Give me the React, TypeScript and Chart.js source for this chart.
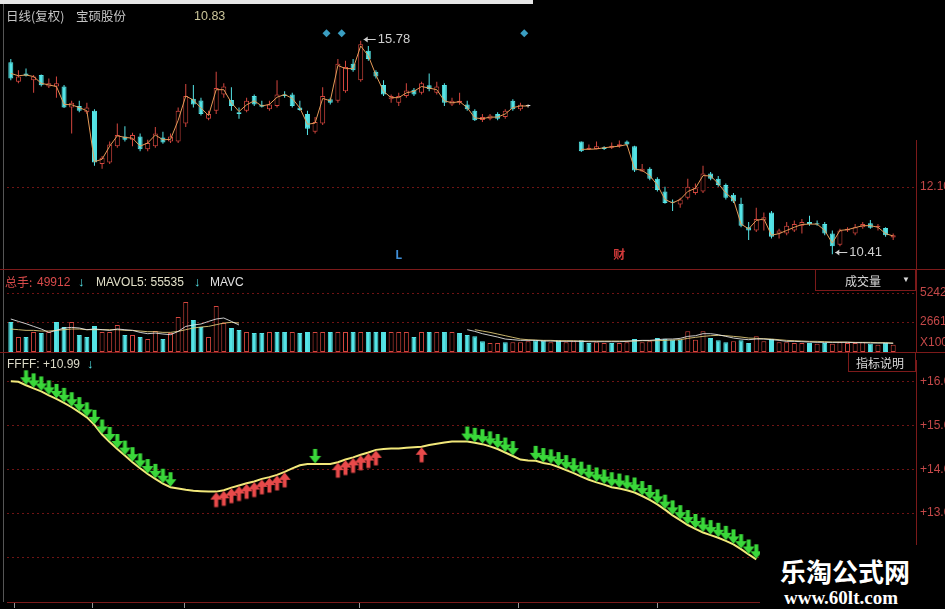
import React, { useEffect, useRef } from 'react';
import { Chart, registerables } from 'chart.js';

Chart.register(...registerables);

// ---------- price candles (null = no data in this stretch of the screenshot) ----------
const GAP6 = [null, null, null, null, null, null];
const openP = [
  15.24, 14.75, 14.96, 14.79, 14.92, 14.63, 14.63, 14.63, 14.10, 14.14,
  13.98, 14.02, 12.68, 12.72, 13.13, 13.37, 13.29, 13.37, 13.05, 13.13,
  13.35, 13.25, 13.25, 13.70, 14.32, 14.28, 13.82, 14.02, 14.43, 14.29,
  13.98, 14.02, 14.39, 14.17, 14.06, 14.14, 14.43, 14.43, 14.10, 13.94,
  13.49, 13.70, 14.31, 14.27, 14.51, 15.20, 14.79, 15.53, 15.00, 14.67,
  14.31, 14.22, 14.39, 14.55, 14.47, 14.66, 14.47, 14.67, 14.18, 14.22,
  14.18, 14.02, 13.79, 13.82, 13.94, 13.86, 14.27, 14.06, 14.14,
  ...GAP6,
  13.25, 13.05, 13.06, 13.10, 13.09, 13.13, 13.25, 13.13, 12.49, 12.56,
  12.31, 11.99, 11.74, 11.66, 11.83, 11.95, 11.99, 12.44, 12.31, 12.15,
  11.91, 11.68, 11.09, 11.01, 11.26, 11.46, 10.93, 10.93, 11.01, 11.13,
  11.22, 11.19, 11.17, 10.93, 10.65, 11.01, 10.93, 11.09, 11.19, 11.09,
  11.07, 10.83,
];
const highP = [
  15.32, 15.04, 15.08, 14.92, 14.93, 14.83, 14.88, 14.67, 14.27, 14.27,
  14.22, 14.06, 12.88, 13.25, 13.70, 13.63, 13.47, 13.45, 13.29, 13.61,
  13.49, 13.45, 14.10, 14.69, 14.67, 14.35, 14.02, 15.00, 14.71, 14.61,
  14.10, 14.35, 14.43, 14.27, 14.27, 14.79, 14.51, 14.47, 14.27, 14.02,
  13.86, 14.61, 14.35, 15.32, 15.28, 15.32, 15.78, 15.65, 15.04, 14.79,
  14.43, 14.47, 14.71, 14.59, 14.75, 14.96, 14.75, 14.71, 14.35, 14.47,
  14.27, 14.06, 13.94, 13.94, 13.98, 14.06, 14.31, 14.22, 14.18,
  ...GAP6,
  13.25, 13.17, 13.25, 13.13, 13.22, 13.27, 13.27, 13.14, 12.68, 12.60,
  12.35, 12.11, 11.79, 11.83, 12.31, 12.19, 12.64, 12.48, 12.38, 12.19,
  11.95, 11.83, 11.22, 11.58, 11.46, 11.50, 11.05, 11.22, 11.26, 11.30,
  11.38, 11.26, 11.22, 11.01, 11.05, 11.09, 11.17, 11.22, 11.27, 11.17,
  11.09, 10.93,
];
const lowP = [
  14.79, 14.71, 14.88, 14.47, 14.63, 14.59, 14.35, 14.09, 13.45, 13.98,
  13.94, 12.64, 12.56, 12.68, 13.09, 13.25, 13.13, 13.00, 13.00, 13.09,
  13.19, 13.21, 13.21, 13.61, 14.10, 13.90, 13.78, 13.94, 14.35, 14.02,
  13.82, 13.98, 14.14, 14.10, 14.02, 14.10, 14.35, 14.10, 14.02, 13.41,
  13.45, 13.66, 14.18, 14.22, 14.47, 15.00, 14.75, 15.28, 14.83, 14.39,
  14.22, 14.14, 14.35, 14.39, 14.43, 14.51, 14.43, 14.14, 14.14, 14.17,
  14.02, 13.76, 13.74, 13.78, 13.78, 13.82, 14.02, 14.02, 14.10,
  ...GAP6,
  12.98, 13.03, 13.05, 13.03, 13.06, 13.09, 13.13, 12.48, 12.48, 12.27,
  11.99, 11.68, 11.50, 11.58, 11.79, 11.91, 11.95, 12.27, 12.11, 11.79,
  11.70, 11.09, 10.77, 10.97, 11.01, 10.81, 10.81, 10.89, 10.97, 10.93,
  11.13, 11.13, 10.89, 10.41, 10.61, 10.97, 10.89, 11.05, 11.05, 11.01,
  10.85, 10.77,
];
const closeP = [
  14.83, 14.88, 14.90, 14.88, 14.66, 14.71, 14.71, 14.10, 14.22, 14.02,
  14.10, 12.72, 12.84, 13.17, 13.41, 13.29, 13.41, 13.05, 13.21, 13.45,
  13.22, 13.37, 14.02, 14.39, 14.18, 13.94, 13.94, 14.59, 14.63, 14.14,
  13.94, 14.27, 14.18, 14.12, 14.18, 14.43, 14.39, 14.14, 14.04, 13.57,
  13.74, 14.39, 14.22, 15.20, 15.12, 15.04, 15.69, 15.32, 14.88, 14.43,
  14.39, 14.39, 14.53, 14.43, 14.71, 14.57, 14.63, 14.22, 14.27, 14.27,
  14.06, 13.78, 13.86, 13.90, 13.82, 14.02, 14.06, 14.17, 14.14,
  ...GAP6,
  13.00, 13.09, 13.13, 13.06, 13.14, 13.18, 13.17, 12.52, 12.56, 12.31,
  12.03, 11.70, 11.71, 11.79, 12.11, 12.07, 12.44, 12.31, 12.15, 11.83,
  11.74, 11.13, 11.01, 11.30, 11.34, 10.85, 11.01, 11.13, 11.17, 11.22,
  11.17, 11.16, 10.93, 10.61, 11.01, 11.05, 11.09, 11.17, 11.08, 11.13,
  10.89, 10.89,
];
const maPrice = [
  14.96, 14.90, 14.92, 14.88, 14.71, 14.67, 14.63, 14.18, 14.17, 14.10,
  14.02, 12.74, 12.80, 13.13, 13.39, 13.35, 13.33, 13.13, 13.21, 13.41,
  13.29, 13.30, 13.78, 14.39, 14.29, 14.09, 13.90, 14.55, 14.55, 14.22,
  14.00, 14.17, 14.27, 14.14, 14.18, 14.36, 14.43, 14.33, 14.09, 13.68,
  13.71, 14.33, 14.27, 15.16, 15.08, 15.08, 15.65, 15.40, 14.92, 14.51,
  14.35, 14.35, 14.47, 14.51, 14.63, 14.59, 14.55, 14.27, 14.22, 14.25,
  14.10, 13.84, 13.82, 13.86, 13.86, 13.94, 14.10, 14.14, 14.14,
  ...GAP6,
  13.05, 13.05, 13.06, 13.09, 13.11, 13.13, 13.17, 12.56, 12.52, 12.39,
  12.15, 11.79, 11.70, 11.79, 11.99, 12.07, 12.39, 12.38, 12.19, 11.95,
  11.79, 11.17, 11.05, 11.26, 11.30, 10.89, 10.93, 11.01, 11.09, 11.16,
  11.17, 11.17, 11.01, 10.69, 11.01, 11.03, 11.08, 11.13, 11.13, 11.09,
  10.93, 10.87,
];

// ---------- volume (x100) ----------
const volume = [
  2670, 1335, 1335, 1780, 1691, 1780, 2670, 2225, 2670, 1513,
  1335, 2314, 1780, 1780, 2403, 1513, 1513, 1335, 1157, 1869,
  1157, 1691, 3115, 4450, 2848, 2225, 1335, 4094, 2581, 2136,
  1958, 1780, 1691, 1691, 1780, 1780, 1780, 1780, 1691, 1780,
  1780, 1780, 1780, 1780, 1780, 1780, 1780, 1780, 1780, 1780,
  1780, 1780, 1780, 1335, 1780, 1780, 1780, 1780, 1780, 1691,
  1513, 1395, 950, 800, 800, 860, 860, 860, 950, 1040,
  1040, 860, 1040, 860, 950, 1040, 800, 860, 800, 800,
  800, 860, 1157, 860, 950, 1246, 1187, 1097, 1097, 1840,
  1097, 1840, 1246, 1040, 860, 950, 1040, 800, 1395, 950,
  1157, 860, 860, 800, 800, 800, 740, 800, 740, 860,
  800, 800, 860, 740, 650, 800, 650,
];
// u = up day (hollow red), d = down day (solid cyan), one letter per bar
const volDir = [
  'dudududdud', 'dduuududuu', 'duuudduuud', 'duddudduddd'.slice(0, 10),
  'uuduududdd', 'uuuduududu'.slice(0, 5) + 'dudud',
  'ddduuduuud', 'duduudduud', 'uuduudddduu'.slice(0, 10),
  'uudddudduu', 'duuuududuu', 'uuududu',
].join('');
const mavol5 = [
  2937, 2723, 2519, 2278, 2047, 1744, 1922, 2136, 2189, 2136,
  1985, 2047, 1985, 1922, 2047, 1985, 1922, 1744, 1629, 1685,
  1600, 1540, 1830, 2278, 2403, 2492, 2723, 2937, 3026, 2723, 2403,
  ...Array(29).fill(null),
  1985, 1836, 1629, 1480, 1332, 1154, 1095, 1035, 1035, 1035,
  976, 976, 946, 946, 946, 946, 917, 917, 917, 917,
  917, 946, 1006, 1035, 1035, 1095, 1154, 1154, 1213, 1391,
  1451, 1629, 1629, 1540, 1391, 1243, 1154, 1095, 1154, 1154,
  1095, 1035, 946, 946, 917, 887, 857, 857, 857, 857,
  857, 828, 828, 798, 798, 798, 768,
];
const mavol10 = [
  2044, 1985, 1925, 1925, 1866, 1866, 1925, 1985, 2044, 2044,
  1985, 1985, 1985, 1985, 1985, 1925, 1925, 1866, 1807, 1807,
  1747, 1747, 1836, 1985, 2133, 2222, 2281, 2430, 2578, 2637, 2578,
  ...Array(30).fill(null),
  1985, 1866, 1747, 1599, 1451, 1302, 1154, 1095, 1065, 1035,
  1035, 1006, 1006, 1006, 976, 976, 976, 976, 976, 976,
  976, 976, 1006, 1006, 1006, 1035, 1065, 1095, 1213, 1302,
  1391, 1451, 1480, 1451, 1391, 1332, 1243, 1213, 1184, 1154,
  1095, 1035, 1006, 976, 946, 946, 917, 887, 887, 887,
  857, 857, 857, 828, 828, 798,
];

// ---------- FFFF indicator ----------
const ffff = [
  16.00, 15.99, 15.91, 15.84, 15.77, 15.68, 15.60, 15.51, 15.41, 15.30,
  15.18, 15.01, 14.79, 14.62, 14.46, 14.31, 14.16, 14.02, 13.89, 13.78,
  13.67, 13.59, 13.56, 13.53, 13.51, 13.50, 13.49, 13.49, 13.52, 13.58,
  13.63, 13.68, 13.72, 13.78, 13.82, 13.87, 13.94, 14.02, 14.09, 14.12,
  14.12, 14.12, 14.12, 14.16, 14.22, 14.27, 14.33, 14.38, 14.44, 14.46,
  14.47, 14.47, 14.49, 14.50, 14.51, 14.55, 14.58, 14.61, 14.63, 14.63,
  14.63, 14.60, 14.57, 14.52, 14.46, 14.38, 14.30, 14.22, 14.20, 14.19,
  14.14, 14.11, 14.05, 13.98, 13.91, 13.83, 13.76, 13.70, 13.65, 13.59,
  13.56, 13.52, 13.47, 13.39, 13.30, 13.20, 13.08, 12.95, 12.84, 12.73,
  12.64, 12.56, 12.50, 12.44, 12.37, 12.29, 12.18, 12.06, 11.95,
  ...Array(18).fill(null),
];
const downSignals = [
  2, 3, 4, 5, 6, 7, 8, 9, 10, 11, 12, 13, 14, 15, 16, 17, 18, 19, 20, 21,
  40,
  60, 61, 62, 63, 64, 65, 66,
  69, 70, 71, 72, 73, 74, 75, 76, 77, 78, 79, 80, 81, 82, 83, 84, 85, 86, 87, 88, 89, 90,
  91, 92, 93, 94, 95, 96, 97, 98,
];
const upSignals = [27, 28, 29, 30, 31, 32, 33, 34, 35, 36, 43, 44, 45, 46, 47, 48, 54];

// ---------- axes / markers ----------
const priceTicks = [12.1];
const volTicks = [5242, 2661, 800];
const volTickLabels = ['5242', '2661', 'X100'];
const ffffTicks = [16, 15, 14, 13, 12];
const dateTicks = [0.5, 10.8, 22.8, 45.9, 66.7, 85];
const flagMarks = [41.5, 43.5, 67.5];
const flagLevel = 15.97;
const eventMarks = [
  { i: 51, text: 'L', color: '#3f8fd8' },
  { i: 80, text: '财', color: '#d23a3a' },
];

const CYAN = '#54e4e6';
const RED = '#d4463e';
const AXIS = '#7c1a1a';
const GRID = 'rgba(130,24,24,0.85)';
const LABEL = '#c44848';
const SANS = '"Liberation Sans", Arial, sans-serif';
const CJK = '"Noto Sans CJK SC", "Noto Sans", sans-serif';

function xScale(display = false) {
  return {
    type: 'linear', min: -0.5, max: 119, offset: false, display,
    afterFit: (s: any) => { s.paddingLeft = 0; s.paddingRight = 0; },
  };
}

function yScale(min: number, max: number, ticks: number[], label: (v: number) => string, border: boolean, hideGridAt?: number) {
  return {
    type: 'linear', position: 'right', min, max,
    afterFit: (s: any) => { s.width = 29; s.paddingTop = 0; s.paddingBottom = 0; },
    afterBuildTicks: (s: any) => { s.ticks = ticks.map((v) => ({ value: v })); },
    grid: {
      drawTicks: false,
      lineWidth: 1,
      color: (c: any) => (c.tick && c.tick.value === hideGridAt ? 'rgba(0,0,0,0)' : GRID),
    },
    border: { display: border, color: AXIS, width: 1, dash: [2, 3] },
    ticks: {
      color: LABEL, padding: 4, autoSkip: false,
      font: { family: SANS, size: 12 },
      callback: (v: any) => label(Number(v)),
    },
  };
}

function makeArrow(color: string, down: boolean) {
  const c = document.createElement('canvas');
  c.width = 13; c.height = 36;
  const g = c.getContext('2d')!;
  g.fillStyle = color;
  g.beginPath();
  if (down) {
    // tip at y = 17 (just above the centre, which sits on the line)
    g.moveTo(4.5, 3); g.lineTo(8.5, 3); g.lineTo(8.5, 10); g.lineTo(12.5, 10);
    g.lineTo(6.5, 17.5); g.lineTo(0.5, 10); g.lineTo(4.5, 10);
  } else {
    const o = 18.5;
    g.moveTo(6.5, o); g.lineTo(12.5, o + 7.5); g.lineTo(8.5, o + 7.5); g.lineTo(8.5, o + 15);
    g.lineTo(4.5, o + 15); g.lineTo(4.5, o + 7.5); g.lineTo(0.5, o + 7.5);
  }
  g.closePath();
  g.fill();
  return c;
}

const priceAnno = {
  id: 'priceAnno',
  afterDatasetsDraw(chart: any) {
    const { ctx, scales } = chart;
    const xs = scales.x, ys = scales.y;
    let hi = -Infinity, hiI = 0, lo = Infinity, loI = 0;
    highP.forEach((v, i) => { if (v != null && v > hi) { hi = v; hiI = i; } });
    lowP.forEach((v, i) => { if (v != null && v < lo) { lo = v; loI = i; } });
    ctx.save();
    const tag = (i: number, v: number) => {
      const px = xs.getPixelForValue(i) + 3;
      const py = Math.round(ys.getPixelForValue(v)) - 1.5;
      ctx.strokeStyle = '#cfcfcf'; ctx.fillStyle = '#cfcfcf'; ctx.lineWidth = 1;
      ctx.beginPath(); ctx.moveTo(px, py); ctx.lineTo(px + 12, py); ctx.stroke();
      ctx.beginPath(); ctx.moveTo(px, py); ctx.lineTo(px + 4, py - 3); ctx.lineTo(px + 4, py + 3); ctx.closePath(); ctx.fill();
      ctx.font = `13px ${SANS}`; ctx.textBaseline = 'middle'; ctx.textAlign = 'left';
      ctx.fillText(v.toFixed(2), px + 14, py);
    };
    tag(hiI, hi);
    tag(loI, lo);
    ctx.font = `bold 12px ${CJK}`; ctx.textAlign = 'center'; ctx.textBaseline = 'middle';
    eventMarks.forEach((e) => {
      ctx.fillStyle = e.color;
      ctx.fillText(e.text, xs.getPixelForValue(e.i), chart.chartArea.bottom - 10);
    });
    ctx.restore();
  },
};

export default function App() {
  const pRef = useRef<HTMLCanvasElement>(null);
  const vRef = useRef<HTMLCanvasElement>(null);
  const fRef = useRef<HTMLCanvasElement>(null);

  useEffect(() => {
    const charts: Chart[] = [];
    const common = {
      animation: false as const,
      responsive: false,
      maintainAspectRatio: false,
      events: [] as any[],
      layout: { padding: { left: 7, right: 0, top: 0, bottom: 0 } },
      plugins: { legend: { display: false }, tooltip: { enabled: false } },
    };

    // ---- price ----
    const wick: any[] = [], wickCol: string[] = [], body: any[] = [], bodyFill: string[] = [], bodyLine: string[] = [];
    openP.forEach((o, i) => {
      if (o == null) return;
      const c = closeP[i] as number;
      const flat = c === o;
      const up = c > o;
      const col = flat ? '#e6e6e6' : up ? RED : CYAN;
      wick.push({ x: i, y: [lowP[i], highP[i]] });
      wickCol.push(col);
      body.push({ x: i, y: [Math.min(o, c), Math.max(o, c)] });
      bodyFill.push(up ? '#000000' : col);
      bodyLine.push(col);
    });
    charts.push(new Chart(pRef.current!, {
      type: 'bar',
      data: {
        datasets: [
          { type: 'bar', data: wick, backgroundColor: wickCol, barThickness: 1, grouped: false, order: 4, borderWidth: 0, inflateAmount: 0 } as any,
          { type: 'bar', data: body, backgroundColor: bodyFill, borderColor: bodyLine, borderWidth: 1, borderSkipped: false, barThickness: 5, grouped: false, order: 3, minBarLength: 1, inflateAmount: 0 } as any,
          { type: 'line', data: maPrice.map((v, i) => ({ x: i, y: v })), borderColor: '#e59a58', borderWidth: 1, pointRadius: 0, spanGaps: false, order: 2 } as any,
          { type: 'line', data: flagMarks.map((x) => ({ x, y: flagLevel })), showLine: false, pointStyle: 'rectRot', pointRadius: 4, backgroundColor: '#3a9ec2', borderWidth: 0, order: 1 } as any,
        ],
      },
      options: {
        ...common,
        scales: {
          x: xScale(false) as any,
          y: yScale(10.166, 16.705, priceTicks, (v) => v.toFixed(2), false) as any,
        },
      },
      plugins: [priceAnno],
    }));

    // ---- volume ----
    const up = (i: number) => volDir[i] === 'u';
    charts.push(new Chart(vRef.current!, {
      type: 'bar',
      data: {
        datasets: [
          {
            type: 'bar', data: volume.map((v, i) => ({ x: i, y: v })),
            backgroundColor: volume.map((_, i) => (up(i) ? '#000000' : CYAN)),
            borderColor: volume.map((_, i) => (up(i) ? RED : CYAN)),
            borderWidth: 1, borderSkipped: false, barThickness: 5, grouped: false, order: 3, inflateAmount: 0,
          } as any,
          { type: 'line', data: mavol5.map((v, i) => ({ x: i, y: v })), borderColor: 'rgba(235,235,235,0.85)', borderWidth: 1, pointRadius: 0, order: 1 } as any,
          { type: 'line', data: mavol10.map((v, i) => ({ x: i, y: v })), borderColor: 'rgba(222,200,120,0.9)', borderWidth: 1, pointRadius: 0, order: 2 } as any,
        ],
      },
      options: {
        ...common,
        scales: {
          x: xScale(false) as any,
          y: yScale(0, 7298, volTicks, (v) => volTickLabels[volTicks.indexOf(v)] ?? '', true, 800) as any,
        },
      },
    }));

    // ---- FFFF ----
    const greenArrow = makeArrow('#3ad83a', true);
    const redArrow = makeArrow('#e84a4a', false);
    charts.push(new Chart(fRef.current!, {
      type: 'line',
      data: {
        datasets: [
          { data: ffff.map((v, i) => ({ x: i, y: v })), borderColor: '#f2e87a', borderWidth: 2, pointRadius: 0, order: 2 },
          { data: downSignals.map((i) => ({ x: i, y: ffff[i] })), showLine: false, pointStyle: greenArrow, pointRadius: 6, order: 1 } as any,
          { data: upSignals.map((i) => ({ x: i, y: ffff[i] })), showLine: false, pointStyle: redArrow, pointRadius: 6, order: 1 } as any,
        ],
      },
      options: {
        ...common,
        scales: {
          x: {
            ...xScale(true),
            position: 'bottom',
            afterFit: (s: any) => { s.height = 6; s.paddingLeft = 0; s.paddingRight = 0; },
            afterBuildTicks: (s: any) => { s.ticks = dateTicks.map((v) => ({ value: v })); },
            grid: { drawOnChartArea: false, drawTicks: true, tickLength: 6, tickColor: 'rgba(200,200,200,0.75)', color: AXIS },
            border: { display: true, color: AXIS, width: 1 },
            ticks: { display: false },
          } as any,
          y: yScale(10.978, 16.485, ffffTicks, (v) => `+${v.toFixed(2)}`, true) as any,
        },
      },
    }));

    return () => charts.forEach((c) => c.destroy());
  }, []);

  const abs = (s: React.CSSProperties): React.CSSProperties => ({ position: 'absolute', ...s });
  const txt = (left: number, top: number, text: string, color: string, size = 12, family = SANS, extra: React.CSSProperties = {}) => (
    <span style={abs({ left, top, color, fontSize: size, lineHeight: `${size + 2}px`, fontFamily: family, whiteSpace: 'nowrap', ...extra })}>{text}</span>
  );

  return (
    <div style={{ position: 'fixed', left: 0, top: 0, width: 945, height: 609, background: '#000', overflow: 'hidden' }}>
      <canvas ref={pRef} width={945} height={268} style={abs({ left: 0, top: 0 })} />
      <canvas ref={vRef} width={945} height={82} style={abs({ left: 0, top: 270 })} />
      <canvas ref={fRef} width={945} height={256} style={abs({ left: 0, top: 353 })} />

      {/* frame pieces */}
      <div style={abs({ left: 0, top: 0, width: 533, height: 4, background: '#e6e6e6' })} />
      <div style={abs({ left: 3, top: 4, width: 1, height: 598, background: 'rgba(170,170,170,0.5)' })} />
      <div style={abs({ left: 0, top: 269, width: 945, height: 1, background: AXIS })} />
      <div style={abs({ left: 0, top: 352, width: 945, height: 1, background: AXIS })} />
      <div style={abs({ left: 916, top: 140, width: 1, height: 129, background: AXIS })} />

      {/* price header */}
      {txt(6, 9, '日线(复权)', '#c4c4c4', 12.5, CJK)}
      {txt(76, 9, '宝硕股份', '#c4c4c4', 12.5, CJK)}
      {txt(194, 9, '10.83', '#cbc59a', 12.5)}

      {/* volume header */}
      {txt(5, 275, '总手:', '#d84a4a', 12, CJK)}
      {txt(37, 275, '49912', '#d84a4a', 12)}
      {txt(78, 274, '↓', CYAN, 13, SANS, { fontWeight: 'bold' })}
      {txt(96, 275, 'MAVOL5: 55535', '#e2e0c8', 12)}
      {txt(194, 274, '↓', CYAN, 13, SANS, { fontWeight: 'bold' })}
      {txt(210, 275, 'MAVC', '#e2e2e2', 12)}
      <div style={abs({ left: 815, top: 270, width: 99, height: 20, border: `1px solid ${AXIS}`, borderTop: 'none' })} />
      {txt(845, 274, '成交量', '#d8d8d8', 12, CJK)}
      {txt(902, 275, '▼', '#d8d8d8', 8)}

      {/* indicator header */}
      {txt(7, 357, 'FFFF: +10.99', '#dcdac8', 12)}
      {txt(87, 356, '↓', CYAN, 13, SANS, { fontWeight: 'bold' })}
      <div style={abs({ left: 848, top: 353, width: 66, height: 18, border: `1px solid ${AXIS}`, borderTop: 'none' })} />
      {txt(856, 356, '指标说明', '#d8d8d8', 12, CJK)}

      {/* watermark */}
      <div style={abs({ left: 760, top: 545, width: 185, height: 64, background: '#000' })} />
      {txt(780, 556, '乐淘公式网', '#ffffff', 26, CJK, { fontWeight: 'bold', lineHeight: '30px' })}
      {txt(784, 588, 'www.60lt.com', '#ffffff', 19, '"Liberation Serif", "DejaVu Serif", serif', { fontWeight: 'bold', lineHeight: '20px' })}
    </div>
  );
}
